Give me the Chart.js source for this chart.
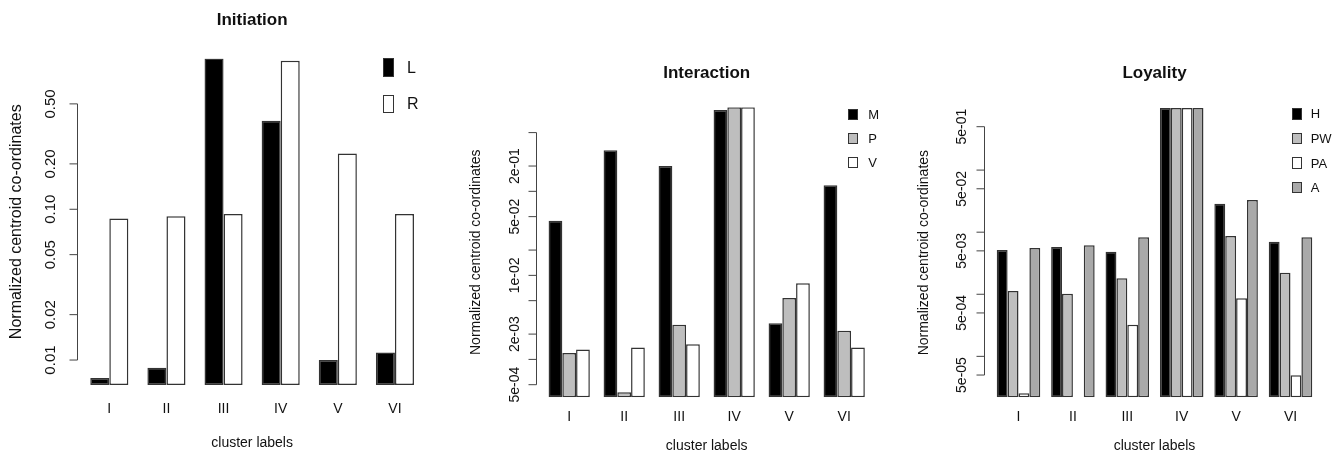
<!DOCTYPE html>
<html>
<head>
<meta charset="utf-8">
<title>Normalized centroid co-ordinates</title>
<script src="https://cdn.jsdelivr.net/npm/chart.js@4.4.1/dist/chart.umd.min.js"></script>
<style>
  html, body { margin: 0; padding: 0; background: #fff; overflow: hidden; }
  body { width: 1338px; height: 456px; position: relative; font-family: "Liberation Sans", Arial, sans-serif; }
  .panel { position: absolute; top: 0; height: 456px; overflow: hidden; }
  .panel canvas { position: absolute; left: 0; top: 0; }
  .key { position: absolute; display: flex; align-items: center; color: #111; white-space: nowrap; }
  .key i { display: block; box-sizing: border-box; border: 1.5px solid #333; }
</style>
</head>
<body>
<div class="panel" id="p1" style="left:0;width:440px"><canvas id="c1" width="440" height="456"></canvas></div>
<div class="panel" id="p2" style="left:440px;width:460px"><canvas id="c2" width="460" height="456"></canvas></div>
<div class="panel" id="p3" style="left:900px;width:438px"><canvas id="c3" width="438" height="456"></canvas></div>

<script>
const clusters = ['I', 'II', 'III', 'IV', 'V', 'VI'];

// Initiation
const initL = [0.0076, 0.0089, 1.0, 0.387, 0.0100, 0.0112];
const initR = [0.087, 0.090, 0.093, 0.965, 0.234, 0.093];
const initTicks = [0.01, 0.02, 0.05, 0.1, 0.2, 0.5];
const initTickLabels = ['0.01', '0.02', '0.05', '0.10', '0.20', '0.50'];

// Interaction
const interM = [0.0448, 0.309, 0.200, 0.931, 0.00269, 0.118];
const interP = [0.00119, 0.000406, 0.00259, 1.0, 0.00539, 0.0022];
const interV = [0.00131, 0.00139, 0.00151, 1.0, 0.00805, 0.00139];
const interTicks = [5e-4, 1e-3, 2e-3, 5e-3, 1e-2, 2e-2, 5e-2, 1e-1, 2e-1, 5e-1];
const interTickLabels = ['5e-04', '', '2e-03', '', '1e-02', '', '5e-02', '', '2e-01', ''];

// Loyality
const loyH = [0.00517, 0.00578, 0.00485, 1.0, 0.0288, 0.00703];
const loyPW = [0.00113, 0.00102, 0.00181, 1.0, 0.00869, 0.00223];
const loyPA = [0.0000255, null, 0.000324, 1.0, 0.000863, 0.0000497];
const loyA = [0.00557, 0.00615, 0.00828, 1.0, 0.033, 0.00828];
const loyTicks = [5e-5, 1e-4, 5e-4, 1e-3, 5e-3, 1e-2, 5e-2, 1e-1, 5e-1];
const loyTickLabels = ['5e-05', '', '5e-04', '', '5e-03', '', '5e-02', '', '5e-01'];

const FONT = '"Liberation Sans", Arial, sans-serif';
Chart.defaults.font.family = FONT;
Chart.defaults.color = '#111';

// R style y axis: line only between first and last tick, labels turned along the axis
const rAxis = {
  id: 'rAxis',
  afterDraw(chart, args, opts) {
    const y = chart.scales.y;
    const ctx = chart.ctx;
    const x0 = Math.round(chart.chartArea.left - opts.gap) + 0.5;
    const px = opts.ticks.map(v => y.getPixelForValue(v));
    ctx.save();
    ctx.strokeStyle = '#444';
    ctx.lineWidth = 1;
    ctx.beginPath();
    ctx.moveTo(x0, Math.min(...px));
    ctx.lineTo(x0, Math.max(...px));
    px.forEach(p => {
      ctx.moveTo(x0, p);
      ctx.lineTo(x0 - opts.tickLen, p);
    });
    ctx.stroke();
    ctx.fillStyle = '#111';
    ctx.font = opts.fontSize + 'px ' + FONT;
    ctx.textAlign = 'center';
    ctx.textBaseline = 'middle';
    opts.labels.forEach((t, i) => {
      if (!t) return;
      ctx.save();
      ctx.translate(x0 - opts.labelDist, px[i]);
      ctx.rotate(-Math.PI / 2);
      ctx.fillText(t, 0, 0);
      ctx.restore();
    });
    ctx.restore();
  }
};

function makePanel(id, cfg) {
  return new Chart(document.getElementById(id), {
    type: 'bar',
    data: { labels: clusters, datasets: cfg.datasets },
    options: {
      responsive: false,
      animation: false,
      events: [],
      layout: { padding: { left: 0, top: 0, right: cfg.padRight, bottom: 0 } },
      datasets: {
        bar: {
          categoryPercentage: cfg.groupFrac,
          barPercentage: 1,
          borderWidth: 1.5,
          borderColor: '#333',
          borderSkipped: false,
        },
      },
      plugins: {
        legend: { display: false },
        tooltip: { enabled: false },
        title: {
          display: true,
          text: cfg.title,
          fullSize: false,
          color: '#111',
          font: { size: 17, weight: 'bold' },
          padding: { top: cfg.titleTop, bottom: cfg.titleBottom },
        },
        rAxis: cfg.axis,
      },
      scales: {
        x: {
          grid: { display: false, drawTicks: false },
          border: { display: false },
          ticks: { font: { size: 14 }, padding: cfg.xTickPad, autoSkip: false, maxRotation: 0 },
          title: {
            display: true,
            text: 'cluster labels',
            font: { size: 14 },
            padding: { top: 0, bottom: cfg.xTitlePad },
          },
          afterFit: (s) => { s.height = cfg.xHeight; },
        },
        y: {
          type: 'logarithmic',
          min: cfg.yMin,
          max: cfg.yMax,
          bounds: 'data',
          grid: { display: false, drawTicks: false },
          border: { display: false },
          ticks: { display: false },
          title: {
            display: true,
            text: 'Normalized centroid co-ordinates',
            font: { size: cfg.yTitleSize },
            padding: { top: cfg.yTitlePad, bottom: 0 },
          },
          afterFit: (s) => { s.width = cfg.yWidth; },
        },
      },
    },
    plugins: [rAxis],
  });
}

function addKey(panelId, chart, key) {
  const panel = document.getElementById(panelId);
  chart.data.datasets.forEach((ds, i) => {
    const row = document.createElement('div');
    row.className = 'key';
    row.style.left = key.left + 'px';
    row.style.top = (key.top + i * key.step - key.rowH / 2) + 'px';
    row.style.height = key.rowH + 'px';
    row.style.fontSize = key.font + 'px';
    const box = document.createElement('i');
    box.style.width = key.boxW + 'px';
    box.style.height = key.boxH + 'px';
    box.style.background = ds.backgroundColor;
    box.style.marginRight = key.gap + 'px';
    row.appendChild(box);
    row.appendChild(document.createTextNode(ds.label));
    panel.appendChild(row);
  });
}

const chart1 = makePanel('c1', {
  title: 'Initiation',
  datasets: [
    { label: 'L', data: initL, backgroundColor: '#000000' },
    { label: 'R', data: initR, backgroundColor: '#ffffff' },
  ],
  groupFrac: 2 / 3,
  yMin: 0.00683, yMax: 1.0,
  yWidth: 80.75, padRight: 16.5, xHeight: 71,
  titleTop: 9.8, titleBottom: 28.3,
  xTickPad: 15.6, xTitlePad: 4.6,
  yTitleSize: 16, yTitlePad: 6.7,
  axis: { ticks: initTicks, labels: initTickLabels, gap: 3.5, tickLen: 8, labelDist: 27, fontSize: 15 },
});

const chart2 = makePanel('c2', {
  title: 'Interaction',
  datasets: [
    { label: 'M', data: interM, backgroundColor: '#000000' },
    { label: 'P', data: interP, backgroundColor: '#bebebe' },
    { label: 'V', data: interV, backgroundColor: '#ffffff' },
  ],
  groupFrac: 0.75,
  yMin: 0.000354, yMax: 1.0,
  yWidth: 101.7, padRight: 28.3, xHeight: 58.7,
  titleTop: 62.8, titleBottom: 24.1,
  xTickPad: 11.5, xTitlePad: 1.1,
  yTitleSize: 14, yTitlePad: 28.1,
  axis: { ticks: interTicks, labels: interTickLabels, gap: 6.2, tickLen: 8, labelDist: 21.5, fontSize: 14 },
});

const chart3 = makePanel('c3', {
  title: 'Loyality',
  datasets: [
    { label: 'H', data: loyH, backgroundColor: '#000000' },
    { label: 'PW', data: loyPW, backgroundColor: '#bebebe' },
    { label: 'PA', data: loyPA, backgroundColor: '#ffffff' },
    { label: 'A', data: loyA, backgroundColor: '#a9a9a9' },
  ],
  groupFrac: 0.8,
  yMin: 0.0000219, yMax: 1.0,
  yWidth: 91.3, padRight: 20.3, xHeight: 58.7,
  titleTop: 63.1, titleBottom: 24.5,
  xTickPad: 11.5, xTitlePad: 1.1,
  yTitleSize: 14, yTitlePad: 16.1,
  axis: { ticks: loyTicks, labels: loyTickLabels, gap: 7.5, tickLen: 8, labelDist: 22.3, fontSize: 14 },
});

addKey('p1', chart1, { left: 382.5, top: 67.5, step: 36.5, rowH: 20, boxW: 11.5, boxH: 18.5, gap: 13, font: 16 });
addKey('p2', chart2, { left: 408.3, top: 114.5, step: 24, rowH: 16, boxW: 10, boxH: 11, gap: 10, font: 13 });
addKey('p3', chart3, { left: 391.7, top: 113.8, step: 24.6, rowH: 16, boxW: 10, boxH: 11.5, gap: 9, font: 13 });
</script>
</body>
</html>
